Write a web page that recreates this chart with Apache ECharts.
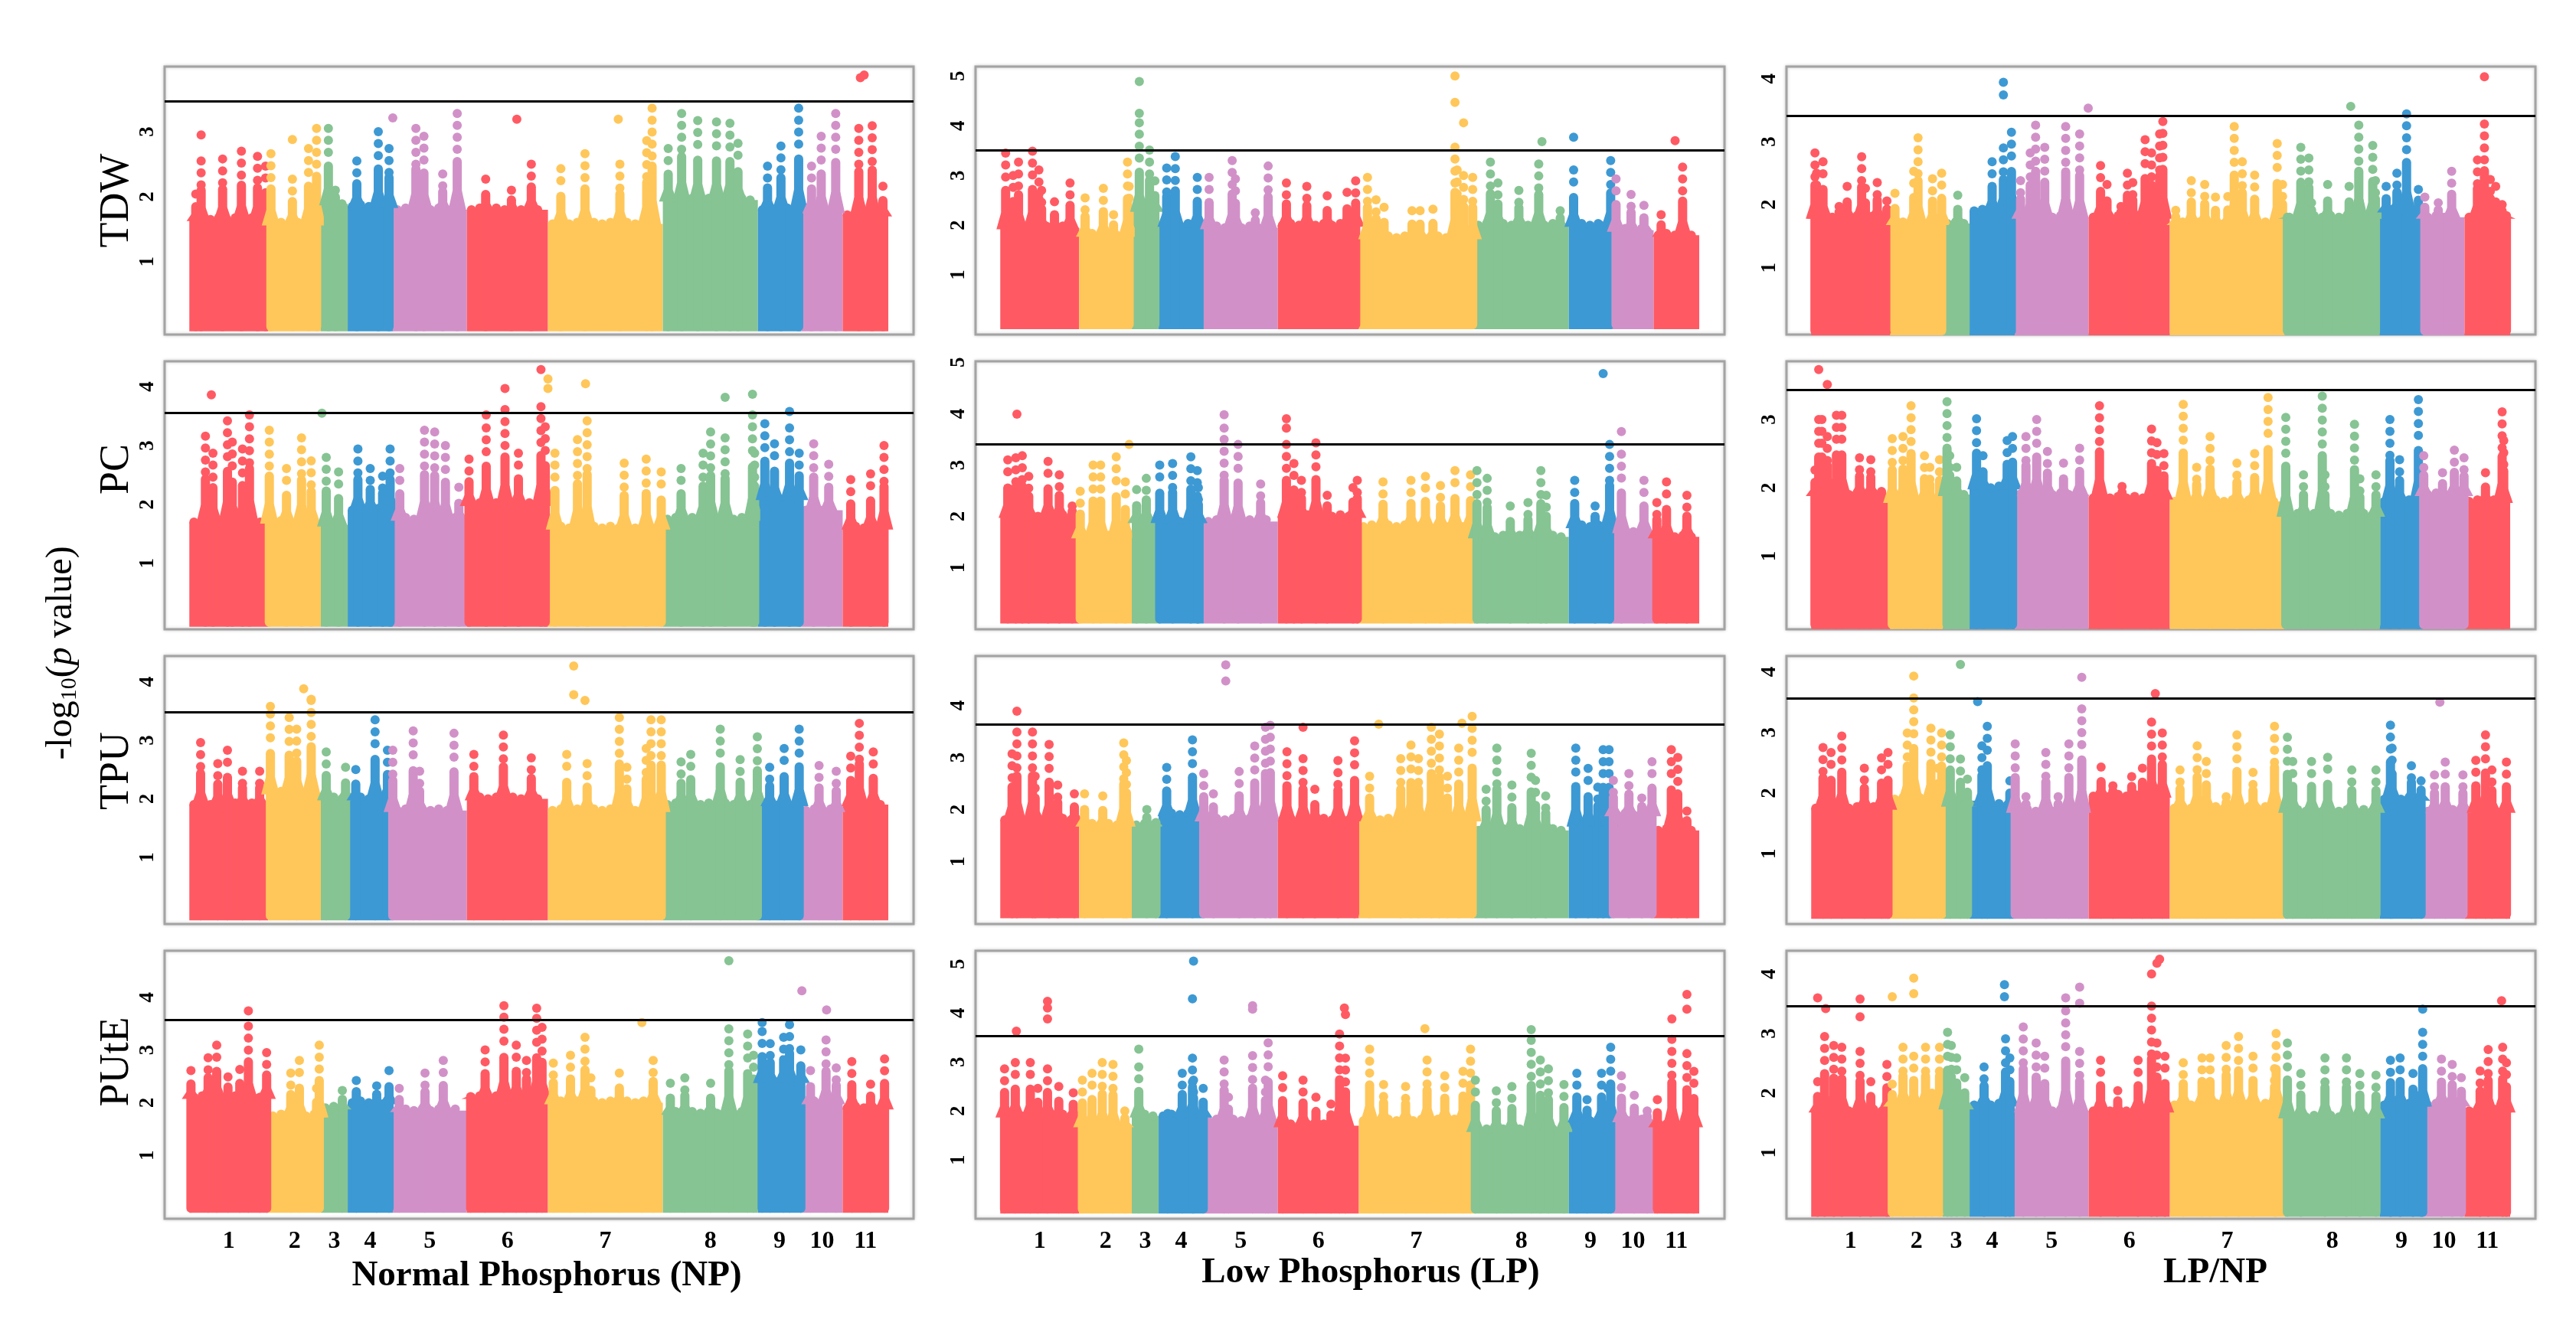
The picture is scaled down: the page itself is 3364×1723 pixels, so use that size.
<!DOCTYPE html>
<html>
<head>
<meta charset="utf-8">
<script src="https://cdn.jsdelivr.net/npm/echarts@6/dist/echarts.min.js"></script>
<style>
  html, body { margin: 0; padding: 0; background: #fff; }
  #chart { width: 3364px; height: 1723px; }
</style>
</head>
<body>
<div id="chart"></div>
<script>
// chromosomes (positions in arbitrary genome units)
var chromLabels = ['1', '2', '3', '4', '5', '6', '7', '8', '9', '10', '11'];
var chromLengths = [147, 98, 50, 84, 138, 151, 214, 177, 81, 77, 85];
var chromColors = ['#ff5a63', '#ffc75a', '#86c493', '#3d99d3', '#d191c8',
                   '#ff5a63', '#ffc75a', '#86c493', '#3d99d3', '#d191c8', '#ff5a63'];
var traits = ['TDW', 'PC', 'TPU', 'PUtE'];
var conditions = ['Normal Phosphorus (NP)', 'Low Phosphorus (LP)', 'LP/NP'];

// y ranges, thresholds and tick labels, per column (rows TDW, PC, TPU, PUtE)
var npYMin = [-0.12, -0.12, -0.14, -0.2];
var npYMax = [4.0, 4.43, 4.44, 4.88];
var npThreshold = [3.47, 3.55, 3.48, 3.57];
var npTicks = [[1, 2, 3], [1, 2, 3, 4], [1, 2, 3, 4], [1, 2, 3, 4]];
var lpYMin = [-0.2, -0.2, -0.2, -0.2];
var lpYMax = [5.19, 5.02, 4.95, 5.27];
var lpThreshold = [3.51, 3.4, 3.63, 3.53];
var lpTicks = [[1, 2, 3, 4, 5], [1, 2, 3, 4, 5], [1, 2, 3, 4], [1, 2, 3, 4, 5]];
var ratioYMin = [-0.06, -0.07, -0.16, -0.11];
var ratioYMax = [4.19, 3.85, 4.26, 4.39];
var ratioThreshold = [3.41, 3.43, 3.56, 3.46];
var ratioTicks = [[1, 2, 3, 4], [1, 2, 3], [1, 2, 3, 4], [1, 2, 3, 4]];

// ---- NP ----
var npTdwBody = [1.65, 1.58, 1.89, 1.85, 1.8, 1.8, 1.58, 1.95, 1.8, 1.77, 1.72];
var npTdwPeaks = [[12, 2.04], [22, 2.55], [62, 2.58], [97, 2.7], [127, 2.62], [142, 2.47], [152, 2.66], [192, 2.27],
  [222, 2.74], [237, 3.05], [259, 3.05], [272, 2.1], [312, 2.55], [352, 3.0], [372, 2.74], [422, 3.05], [437, 2.93],
  [472, 2.35], [499, 3.28], [552, 2.27], [600, 2.1], [637, 2.5], [692, 2.43], [737, 2.66], [802, 2.5], [852, 2.86],
  [862, 3.36], [892, 2.74], [917, 3.28], [947, 3.17], [982, 3.15], [1007, 3.13], [1022, 2.82], [1077, 2.47],
  [1102, 2.78], [1135, 3.36], [1159, 2.47], [1177, 2.93], [1204, 3.28], [1247, 3.05], [1272, 3.09], [1292, 2.16]];
var npTdwDots = [[22, 2.95], [192, 2.88], [379, 3.21], [610, 3.19], [799, 3.19], [1250, 3.83], [1257, 3.87]];

var npPcBody = [1.7, 1.7, 1.65, 1.9, 1.75, 2.0, 1.6, 1.75, 2.1, 1.9, 1.6];
var npPcPeaks = [[30, 3.16], [44, 2.87], [71, 3.42], [80, 3.06], [99, 2.94], [112, 3.52], [149, 3.26], [181, 2.61],
  [209, 3.13], [227, 2.74], [255, 2.8], [278, 2.55], [314, 2.94], [337, 2.61], [360, 2.48], [374, 2.94], [392, 2.61],
  [438, 3.26], [457, 3.23], [477, 3.0], [502, 2.29], [521, 2.77], [553, 3.3], [588, 3.61], [613, 2.87], [655, 3.66],
  [663, 3.32], [681, 2.87], [723, 3.1], [741, 3.42], [810, 2.7], [851, 2.77], [879, 2.55], [916, 2.61], [957, 2.87],
  [971, 3.23], [998, 3.13], [1049, 3.52], [1053, 2.87], [1072, 3.37], [1090, 3.03], [1118, 3.3], [1136, 2.87],
  [1163, 3.03], [1191, 2.68], [1232, 2.42], [1269, 2.52], [1294, 3.0]];
var npPcDots = [[41, 3.86], [247, 3.55], [553, 3.52], [588, 3.97], [655, 4.29], [668, 4.13], [668, 3.97],
  [738, 4.05], [998, 3.82], [1049, 3.87], [1118, 3.58]];

var npTpuBody = [1.9, 2.1, 2.0, 2.0, 1.8, 2.0, 1.8, 1.9, 1.9, 1.8, 1.9];
var npTpuPeaks = [[21, 2.96], [53, 2.6], [71, 2.83], [99, 2.47], [131, 2.47], [151, 3.45], [186, 3.39], [200, 3.19],
  [227, 3.68], [255, 2.8], [291, 2.54], [310, 2.5], [346, 3.35], [369, 2.83], [379, 2.83], [417, 3.16], [429, 2.47],
  [493, 3.12], [530, 2.76], [585, 3.09], [637, 2.7], [703, 2.76], [741, 2.6], [801, 3.39], [815, 2.54], [851, 2.86],
  [860, 3.35], [879, 3.35], [916, 2.63], [934, 2.76], [989, 3.19], [1026, 2.67], [1058, 3.06], [1081, 2.54],
  [1108, 2.86], [1136, 3.19], [1173, 2.57], [1205, 2.47], [1232, 2.73], [1248, 3.29], [1274, 2.8]];
var npTpuDots = [[151, 3.58], [213, 3.88], [227, 3.7], [716, 4.27], [716, 3.78], [737, 3.68]];

var npPuteBody = [2.1, 1.75, 1.9, 2.0, 1.85, 2.1, 2.0, 1.8, 2.4, 2.0, 1.9];
var npPutePeaks = [[3, 2.61], [35, 2.85], [51, 3.09], [72, 2.49], [94, 2.63], [110, 3.45], [131, 1.94], [144, 2.95],
  [189, 2.56], [205, 2.8], [237, 2.27], [242, 3.09], [285, 2.23], [311, 2.42], [349, 2.32], [372, 2.61], [391, 2.27],
  [439, 2.56], [473, 2.8], [524, 2.13], [551, 3.0], [586, 3.62], [609, 3.09], [628, 2.8], [647, 3.6], [657, 3.43],
  [678, 2.75], [710, 2.9], [737, 3.24], [748, 2.47], [801, 2.56], [843, 1.99], [864, 2.8], [896, 2.37], [923, 2.47],
  [971, 2.37], [1005, 3.4], [1040, 3.3], [1051, 2.9], [1067, 3.35], [1082, 3.12], [1107, 3.24], [1118, 3.48],
  [1139, 3.0], [1157, 2.61], [1186, 3.19], [1205, 2.66], [1234, 2.78], [1269, 2.35], [1295, 2.83]];
var npPuteDots = [[110, 3.74], [586, 3.84], [647, 3.79], [843, 3.52], [1005, 4.69], [1067, 3.52], [1141, 4.12],
  [1187, 3.76]];

// ---- LP ----
var lpTdwBody = [1.95, 1.8, 2.3, 2.0, 1.95, 2.0, 1.75, 2.0, 2.0, 1.9, 1.8];
var lpTdwPeaks = [[10, 3.45], [24, 3.0], [34, 3.27], [60, 3.49], [72, 3.11], [77, 2.7], [101, 2.47], [130, 2.85],
  [158, 2.55], [192, 2.74], [211, 2.21], [237, 3.27], [240, 2.78], [259, 3.83], [278, 3.51], [288, 2.89], [310, 3.15],
  [326, 3.38], [367, 2.96], [389, 2.96], [432, 3.3], [438, 2.93], [475, 2.25], [499, 3.19], [533, 2.85], [571, 2.78],
  [609, 2.59], [646, 2.66], [662, 2.89], [684, 2.96], [700, 2.51], [715, 2.36], [767, 2.29], [782, 2.29], [806, 2.32],
  [847, 3.57], [851, 3.11], [863, 3.0], [880, 2.96], [913, 3.27], [927, 2.85], [966, 2.7], [1003, 3.23], [1043, 2.29],
  [1068, 3.11], [1118, 1.95], [1137, 3.3], [1147, 2.93], [1175, 2.62], [1199, 2.4], [1231, 2.21], [1271, 3.17]];
var lpTdwDots = [[259, 4.89], [259, 4.25], [259, 4.06], [847, 5.0], [847, 4.47], [863, 4.06], [1009, 3.68],
  [1068, 3.77], [1257, 3.7]];

var lpPcBody = [2.0, 1.6, 1.9, 1.9, 1.9, 2.0, 1.8, 1.6, 1.8, 1.7, 1.6];
var lpPcPeaks = [[14, 3.1], [29, 3.14], [41, 3.18], [53, 2.78], [89, 3.07], [110, 2.81], [134, 2.2], [149, 2.49],
  [173, 3.0], [187, 3.0], [216, 3.16], [233, 2.67], [254, 2.52], [272, 2.74], [297, 3.0], [321, 3.03], [355, 3.16],
  [367, 2.89], [369, 2.56], [417, 3.5], [443, 3.4], [485, 2.63], [533, 3.4], [547, 3.03], [561, 2.7], [588, 3.43],
  [609, 2.41], [657, 2.56], [665, 2.7], [713, 2.67], [765, 2.7], [792, 2.78], [820, 2.6], [847, 2.89], [876, 2.81],
  [888, 2.89], [907, 2.74], [950, 2.2], [983, 2.27], [1007, 2.89], [1017, 2.41], [1070, 2.7], [1108, 2.2],
  [1135, 3.4], [1157, 3.21], [1199, 2.7], [1223, 2.27], [1241, 2.67], [1279, 2.41]];
var lpPcDots = [[31, 3.99], [240, 3.4], [417, 3.98], [417, 3.72], [533, 3.9], [533, 3.72], [1123, 4.78], [1157, 3.65]];

var lpTpuBody = [1.8, 1.7, 1.7, 1.9, 1.8, 1.8, 1.8, 1.6, 1.7, 1.9, 1.6];
var lpTpuPeaks = [[22, 3.07], [31, 3.49], [60, 3.49], [65, 2.64], [91, 3.25], [107, 2.47], [138, 2.3], [157, 2.3],
  [191, 2.26], [230, 3.28], [235, 2.94], [273, 2.0], [290, 1.8], [310, 2.81], [358, 3.34], [379, 2.69], [397, 2.3],
  [445, 2.73], [474, 3.22], [494, 3.58], [503, 3.62], [534, 3.11], [564, 2.98], [586, 2.39], [629, 2.94], [660, 3.32],
  [688, 2.64], [746, 2.98], [765, 3.24], [779, 2.98], [803, 3.58], [818, 3.45], [833, 2.64], [854, 3.18], [879, 3.79],
  [905, 2.39], [925, 3.18], [953, 2.47], [989, 3.08], [997, 2.56], [1016, 2.26], [1072, 3.18], [1095, 2.79],
  [1113, 2.43], [1123, 3.15], [1134, 3.15], [1142, 2.56], [1171, 2.69], [1195, 2.22], [1214, 2.92], [1250, 3.15],
  [1262, 3.0], [1279, 1.97]];
var lpTpuDots = [[31, 3.89], [420, 4.78], [420, 4.47], [564, 3.58], [705, 3.64], [860, 3.66]];

var lpPuteBody = [1.9, 1.7, 1.9, 1.9, 1.8, 1.7, 1.8, 1.6, 1.8, 1.8, 1.7];
var lpPutePeaks = [[8, 2.86], [28, 2.99], [56, 2.99], [70, 2.46], [88, 2.86], [109, 2.5], [136, 2.37], [153, 2.63],
  [171, 2.77], [190, 2.99], [210, 2.95], [232, 2.0], [258, 2.9], [312, 2.0], [339, 2.77], [358, 3.08], [360, 2.63],
  [378, 2.46], [417, 3.04], [425, 2.28], [470, 3.13], [494, 2.63], [499, 3.39], [526, 2.72], [564, 2.63], [588, 2.28],
  [616, 2.14], [632, 3.57], [643, 3.08], [688, 3.26], [714, 2.54], [755, 2.5], [795, 3.04], [828, 2.72], [862, 2.81],
  [876, 3.26], [885, 2.63], [924, 2.41], [953, 2.5], [989, 3.44], [1006, 3.04], [1021, 2.86], [1050, 2.54],
  [1074, 2.77], [1093, 2.23], [1120, 2.77], [1137, 3.3], [1132, 2.46], [1157, 2.72], [1181, 2.32], [1205, 2.0],
  [1224, 2.23], [1251, 3.46], [1279, 3.17], [1292, 2.81]];
var lpPuteDots = [[30, 3.63], [88, 4.24], [88, 4.1], [88, 3.88], [258, 3.26], [358, 4.29], [360, 5.06], [470, 4.15],
  [470, 4.08], [641, 4.1], [643, 3.97], [791, 3.68], [989, 3.66], [1251, 3.88], [1279, 4.38], [1279, 4.08]];

// ---- LP/NP ----
var ratioTdwBody = [1.8, 1.7, 1.7, 1.9, 1.8, 1.8, 1.7, 1.8, 1.9, 1.8, 1.8];
var ratioTdwPeaks = [[7, 2.82], [10, 2.5], [22, 2.68], [52, 1.97], [67, 2.29], [94, 2.76], [101, 2.26], [123, 2.35],
  [141, 2.06], [156, 2.18], [191, 2.53], [199, 3.06], [226, 2.41], [243, 2.5], [273, 2.15], [337, 2.68], [358, 2.9],
  [373, 3.15], [390, 2.38], [408, 2.82], [418, 3.26], [435, 2.91], [474, 3.24], [500, 3.12], [539, 2.62], [551, 2.32],
  [577, 1.97], [589, 2.5], [599, 2.35], [622, 3.03], [634, 2.82], [649, 3.12], [655, 3.32], [679, 1.91], [708, 2.38],
  [733, 2.32], [753, 2.12], [776, 2.13], [788, 3.24], [803, 2.68], [826, 2.47], [868, 2.97], [878, 2.32], [887, 1.79],
  [912, 2.91], [927, 2.74], [932, 2.03], [962, 2.32], [1002, 2.29], [1020, 3.26], [1046, 2.94], [1051, 2.38],
  [1071, 2.29], [1091, 2.5], [1109, 3.44], [1131, 2.24], [1143, 2.12], [1168, 2.03], [1193, 2.53], [1241, 2.71],
  [1254, 3.28], [1265, 2.4], [1275, 2.29], [1287, 2.0], [1295, 1.85]];
var ratioTdwDots = [[358, 3.94], [358, 3.74], [516, 3.53], [1005, 3.56], [1254, 4.03]];

var ratioPcBody = [1.9, 1.8, 1.9, 2.0, 1.9, 1.85, 1.8, 1.6, 1.8, 1.9, 1.8];
var ratioPcPeaks = [[7, 2.26], [14, 3.0], [20, 3.0], [30, 2.75], [47, 3.06], [57, 3.06], [90, 2.44], [111, 2.41],
  [131, 1.99], [151, 2.72], [171, 2.75], [186, 3.2], [211, 2.47], [221, 2.3], [239, 2.41], [253, 3.26], [258, 2.47],
  [271, 2.3], [308, 3.01], [320, 2.47], [365, 2.69], [375, 2.75], [400, 2.75], [420, 3.0], [440, 2.53], [470, 2.36],
  [500, 2.58], [537, 3.2], [579, 2.02], [634, 2.86], [644, 2.66], [657, 2.5], [693, 3.22], [718, 2.3], [743, 2.75],
  [793, 2.36], [826, 2.5], [851, 3.32], [884, 3.03], [917, 2.19], [952, 3.34], [957, 2.19], [1012, 2.93],
  [1022, 2.13], [1052, 2.19], [1078, 3.0], [1096, 2.41], [1131, 3.29], [1141, 2.47], [1176, 2.22], [1198, 2.55],
  [1216, 2.44], [1256, 2.22], [1287, 3.11], [1290, 2.69]];
var ratioPcDots = [[14, 3.73], [30, 3.51]];

var ratioTpuBody = [1.75, 1.9, 1.8, 1.8, 1.7, 1.95, 1.75, 1.7, 1.9, 1.7, 1.7];
var ratioTpuPeaks = [[22, 2.75], [37, 2.67], [57, 2.94], [99, 2.41], [131, 2.58], [143, 2.67], [179, 2.99],
  [191, 3.57], [223, 3.07], [243, 2.99], [236, 2.41], [259, 2.96], [278, 2.56], [291, 2.23], [318, 2.78], [328, 3.1],
  [370, 2.2], [380, 2.81], [400, 1.94], [437, 2.67], [460, 1.94], [480, 2.81], [504, 3.39], [540, 2.43], [562, 2.12],
  [597, 2.27], [617, 2.41], [634, 3.17], [654, 2.99], [687, 2.38], [719, 2.78], [736, 2.52], [773, 1.94], [793, 2.96],
  [823, 2.34], [863, 3.1], [887, 2.92], [897, 2.52], [932, 2.52], [962, 2.59], [1007, 2.38], [1052, 2.38],
  [1079, 3.12], [1082, 2.74], [1118, 2.45], [1136, 2.2], [1161, 2.3], [1181, 2.51], [1214, 2.3], [1238, 2.54],
  [1256, 2.96], [1268, 2.38], [1295, 2.51]];
var ratioTpuDots = [[191, 3.93], [278, 4.12], [310, 3.51], [504, 3.91], [641, 3.64], [1171, 3.5]];

var ratioPuteBody = [1.7, 1.8, 1.75, 1.8, 1.7, 1.7, 1.8, 1.6, 1.8, 1.8, 1.7];
var ratioPutePeaks = [[12, 2.19], [25, 2.95], [42, 2.8], [57, 2.77], [91, 2.7], [111, 2.19], [141, 2.48],
  [151, 2.15], [171, 2.77], [191, 2.62], [213, 2.77], [225, 2.0], [239, 2.77], [254, 3.02], [261, 2.8], [271, 2.59],
  [286, 2.26], [322, 2.44], [362, 2.91], [370, 2.59], [395, 3.11], [419, 2.84], [435, 2.62], [474, 3.38], [500, 2.7],
  [539, 2.55], [571, 2.04], [609, 2.55], [634, 3.46], [644, 2.84], [659, 2.62], [693, 2.51], [728, 2.59], [743, 2.59],
  [773, 2.8], [796, 2.95], [823, 2.62], [863, 2.41], [866, 3.0], [887, 2.84], [912, 2.33], [957, 2.59], [997, 2.59],
  [1022, 2.33], [1052, 2.3], [1079, 2.55], [1097, 2.59], [1121, 2.33], [1136, 1.97], [1139, 3.02], [1174, 2.57],
  [1194, 2.48], [1211, 2.26], [1246, 2.37], [1261, 2.73], [1288, 2.77], [1295, 2.51]];
var ratioPuteDots = [[12, 3.6], [27, 3.42], [91, 3.58], [91, 3.28], [151, 3.62], [191, 3.93], [191, 3.67],
  [360, 3.82], [360, 3.62], [474, 3.6], [500, 3.78], [500, 3.51], [634, 4.0], [644, 4.18], [649, 4.25],
  [1139, 3.41], [1286, 3.55]];

(function () {
  var serif = '"Liberation Serif", "DejaVu Serif", serif';
  var DOT = 12;
  var colLeft = [215, 1274, 2333];
  var rowTop = [87, 472, 857, 1242];
  var gridW = 978, gridH = 350;

  var starts = [];
  var acc = 0;
  chromLengths.forEach(function (len) { starts.push(acc); acc += len; });
  var centers = starts.map(function (s, i) { return s + chromLengths[i] / 2; });
  function chromOf(x) {
    for (var i = starts.length - 1; i >= 0; i--) {
      if (x >= starts[i]) return i;
    }
    return 0;
  }

  var columns = [
    { yMin: npYMin, yMax: npYMax, thr: npThreshold, ticks: npTicks,
      body: [npTdwBody, npPcBody, npTpuBody, npPuteBody],
      peaks: [npTdwPeaks, npPcPeaks, npTpuPeaks, npPutePeaks],
      dots: [npTdwDots, npPcDots, npTpuDots, npPuteDots] },
    { yMin: lpYMin, yMax: lpYMax, thr: lpThreshold, ticks: lpTicks,
      body: [lpTdwBody, lpPcBody, lpTpuBody, lpPuteBody],
      peaks: [lpTdwPeaks, lpPcPeaks, lpTpuPeaks, lpPutePeaks],
      dots: [lpTdwDots, lpPcDots, lpTpuDots, lpPuteDots] },
    { yMin: ratioYMin, yMax: ratioYMax, thr: ratioThreshold, ticks: ratioTicks,
      body: [ratioTdwBody, ratioPcBody, ratioTpuBody, ratioPuteBody],
      peaks: [ratioTdwPeaks, ratioPcPeaks, ratioTpuPeaks, ratioPutePeaks],
      dots: [ratioTdwDots, ratioPcDots, ratioTpuDots, ratioPuteDots] }
  ];

  var grids = [], xAxes = [], yAxes = [], series = [];

  // dense block of SNPs of one chromosome, with a beaded top edge
  function renderBody(params, api) {
    var p0 = api.coord([api.value(0), 0]);
    var p1 = api.coord([api.value(1), api.value(2)]);
    var fill = chromColors[api.value(3)];
    var r = DOT / 2;
    var children = [{
      type: 'rect',
      shape: { x: p0[0], y: p1[1], width: p1[0] - p0[0], height: p0[1] - p1[1] + r },
      style: { fill: fill }
    }];
    for (var x = p0[0] + r, j = 0; x <= p1[0] - r + 0.5; x += DOT * 0.9, j++) {
      children.push({ type: 'circle', shape: { cx: x, cy: p1[1] - (j % 2 ? r * 0.35 : 0), r: r }, style: { fill: fill } });
    }
    return { type: 'group', children: children };
  }

  // column of SNPs rising above the block: tapered foot, solid stem, dotted tip
  function renderPeak(params, api) {
    var base = api.coord([api.value(0), 0]);
    var top = api.coord([api.value(0), api.value(1)]);
    var bodyTop = api.coord([api.value(0), api.value(3)]);
    var fill = chromColors[api.value(2)];
    var r = DOT / 2;
    var cx = base[0];
    var bodyY = Math.min(bodyTop[1], base[1]);
    var rise = Math.max(bodyY - top[1], 0);
    var solidY = bodyY - rise * 0.5;
    var footY = bodyY - rise * 0.2;
    var children = [
      { type: 'polygon', shape: { points: [[cx - DOT, bodyY + 2], [cx + DOT, bodyY + 2], [cx + r, footY], [cx - r, footY]] },
        style: { fill: fill } },
      { type: 'rect', shape: { x: cx - r, y: solidY - r, width: DOT, height: base[1] - solidY + DOT, r: r },
        style: { fill: fill } }
    ];
    var step = DOT * 1.3;
    for (var y = top[1]; y < solidY - r; y += step) {
      children.push({ type: 'circle', shape: { cx: cx, cy: y, r: r }, style: { fill: fill } });
    }
    return { type: 'group', children: children };
  }

  columns.forEach(function (col, c) {
    traits.forEach(function (trait, r) {
      var k = grids.length;
      grids.push({
        left: colLeft[c], top: rowTop[r], width: gridW, height: gridH,
        show: true, borderColor: '#a3a3a3', borderWidth: 3, backgroundColor: '#fff',
        shadowColor: 'rgba(0,0,0,0.18)', shadowBlur: 4
      });
      var bottomRow = r === traits.length - 1;
      xAxes.push({
        type: 'value', gridIndex: k, min: -46, max: 1349,
        axisLine: { show: false }, axisTick: { show: false }, splitLine: { show: false },
        axisLabel: {
          show: bottomRow, customValues: centers, margin: 14,
          formatter: function (v) { var i = centers.indexOf(v); return i >= 0 ? chromLabels[i] : ''; },
          fontFamily: serif, fontWeight: 'bold', fontSize: 32, color: '#000'
        }
      });
      yAxes.push({
        type: 'value', gridIndex: k, min: col.yMin[r], max: col.yMax[r],
        axisLine: { show: false }, axisTick: { show: false }, splitLine: { show: false },
        axisLabel: {
          customValues: col.ticks[r], rotate: 90, margin: 8,
          fontFamily: serif, fontWeight: 'bold', fontSize: 27, color: '#000'
        }
      });

      var bodyH = col.body[r];
      var bodyData = bodyH.map(function (h, i) {
        return [starts[i], starts[i] + chromLengths[i], h, i];
      });
      var peakData = col.peaks[r].map(function (p) {
        var ci = chromOf(p[0]);
        return [p[0], p[1], ci, bodyH[ci]];
      });

      series.push({
        type: 'custom', xAxisIndex: k, yAxisIndex: k, silent: true, z: 2,
        encode: { x: [0, 1], y: 2 }, data: bodyData, renderItem: renderBody
      });
      series.push({
        type: 'custom', xAxisIndex: k, yAxisIndex: k, silent: true, z: 3,
        encode: { x: 0, y: 1 }, data: peakData, renderItem: renderPeak
      });
      series.push({
        type: 'scatter', xAxisIndex: k, yAxisIndex: k, silent: true, z: 4,
        symbol: 'circle', symbolSize: DOT, data: col.dots[r],
        itemStyle: { opacity: 1, color: function (p) { return chromColors[chromOf(p.value[0])]; } },
        markLine: {
          silent: true, symbol: 'none', label: { show: false }, animation: false,
          lineStyle: { color: '#000', width: 3, type: 'solid' },
          data: [{ yAxis: col.thr[r] }]
        }
      });
    });
  });

  var graphic = [];
  var rowLabelY = [262, 613, 1007, 1387];
  traits.forEach(function (t, r) {
    graphic.push({
      type: 'text', x: 153, y: rowLabelY[r], rotation: Math.PI / 2,
      style: { text: t, fontFamily: serif, fontSize: 54, fill: '#000',
               align: 'center', verticalAlign: 'middle', textAlign: 'center', textVerticalAlign: 'middle' }
    });
  });
  graphic.push({
    type: 'text', x: 80, y: 853, rotation: Math.PI / 2,
    style: {
      text: '{t|-log}{s|10}{t|(}{i|p}{t| value)}', fill: '#000',
      align: 'center', verticalAlign: 'middle', textAlign: 'center', textVerticalAlign: 'middle',
      rich: {
        t: { fontFamily: serif, fontSize: 48, lineHeight: 52, verticalAlign: 'middle' },
        s: { fontFamily: serif, fontSize: 30, lineHeight: 52, verticalAlign: 'bottom', padding: [14, 0, 0, 0] },
        i: { fontFamily: serif, fontSize: 48, fontStyle: 'italic', lineHeight: 52, verticalAlign: 'middle' }
      }
    }
  });
  var titleX = [714, 1790, 2893];
  var titleY = [1667, 1663, 1663];
  conditions.forEach(function (t, c) {
    graphic.push({
      type: 'text', x: titleX[c], y: titleY[c],
      style: { text: t, fontFamily: serif, fontWeight: 'bold', fontSize: 47, fill: '#000',
               align: 'center', verticalAlign: 'middle', textAlign: 'center', textVerticalAlign: 'middle' }
    });
  });

  var chart = echarts.init(document.getElementById('chart'), null, { renderer: 'canvas' });
  chart.setOption({
    animation: false,
    backgroundColor: '#fff',
    grid: grids,
    xAxis: xAxes,
    yAxis: yAxes,
    series: series,
    graphic: graphic
  });
})();
</script>
</body>
</html>
